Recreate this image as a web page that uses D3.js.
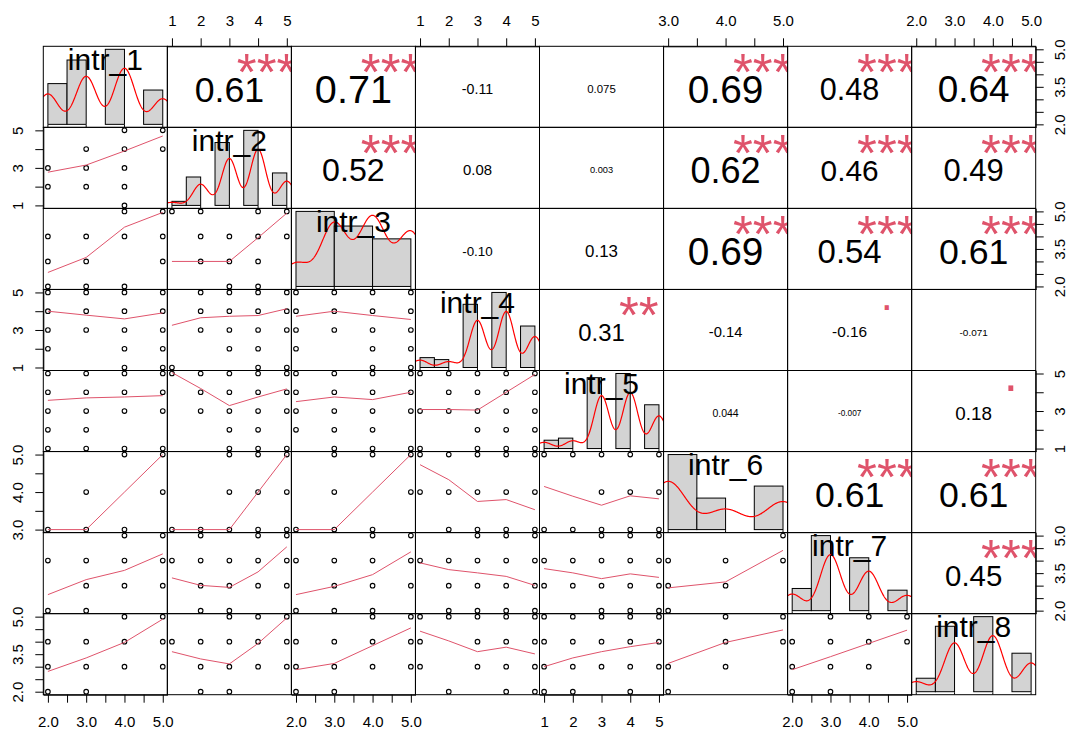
<!DOCTYPE html>
<html>
<meta charset="utf-8">
<style>
  body { margin: 0; background: #fff; }
  svg { display: block; font-family: "Liberation Sans", Arial, sans-serif; }
</style>

<body>
  <svg></svg>
</body>

<script src="https://d3js.org/d3.v7.min.js"></script>

<script>

  // grid of 8 x 8 panels
  var ml = 43.3, mt = 46.3, pw = 124.05, ph = 81.05, nv = 8;

  var vars = ["intr_1", "intr_2", "intr_3", "intr_4", "intr_5", "intr_6", "intr_7", "intr_8"];
  var varMin = [2, 1, 2, 1, 1, 3, 2, 2];
  var varMax = [5, 5, 5, 5, 5, 5, 5, 5];

  // frequencies of each answer level (varMin..varMax)
  var counts = [
    [19, 30, 35, 16],
    [2, 14, 31, 37, 16],
    [11, 30, 33, 26],
    [5, 4, 32, 38, 21],
    [4, 5, 34, 36, 21],
    [50, 21, 29],
    [13, 44, 31, 12],
    [7, 34, 39, 20]
  ];
  var binWidth = [0.5, 0.5, 1, 0.5, 0.5, 0.5, 0.5, 0.5];

  // axis ticks
  var tickStep = [0.5, 1, 0.5, 1, 1, 0.5, 0.5, 0.5];
  var xLabelVals = [[2, 3, 4, 5], [1, 2, 3, 4, 5], [2, 3, 4, 5], [1, 2, 3, 4, 5], [1, 2, 3, 4, 5], [3, 4, 5], [2, 3, 4, 5], [2, 3, 4, 5]];
  var yLabelVals = [[2, 3.5, 5], [1, 3, 5], [2, 3.5, 5], [1, 3, 5], [1, 3, 5], [3, 4, 5], [2, 3.5, 5], [2, 3.5, 5]];

  // upper triangle, row by row
  var corrLabels = ["0.61", "0.71", "-0.11", "0.075", "0.69", "0.48", "0.64",
    "0.52", "0.08", "0.003", "0.62", "0.46", "0.49",
    "-0.10", "0.13", "0.69", "0.54", "0.61",
    "0.31", "-0.14", "-0.16", "-0.071",
    "0.044", "-0.007", "0.18",
    "0.61", "0.61",
    "0.45"];
  var corrStars = ["***", "***", "", "", "***", "***", "***",
    "***", "", "", "***", "***", "***",
    "", "", "***", "***", "***",
    "**", "", ".", "",
    "", "", ".",
    "***", "***",
    "***"];

  // lower triangle, row by row: [x value, y value] pairs present
  var lowerPoints = [
    [[4,5],[5,5],[3,4],[4,4],[5,4],[2,3],[3,3],[4,3],[2,2],[3,2],[4,2],[4,1]],
    [[4,5],[5,5],[2,4],[3,4],[4,4],[5,4],[2,3],[3,3],[5,3],[2,2],[3,2],[4,2]],
    [[1,5],[2,5],[4,5],[5,5],[2,4],[3,4],[4,4],[5,4],[2,3],[3,3],[4,3],[3,2],[4,2]],
    [[2,5],[3,5],[4,5],[5,5],[2,4],[3,4],[4,4],[5,4],[2,3],[3,3],[4,3],[5,3],[2,2],[4,2],[5,2],[4,1],[5,1]],
    [[2,5],[3,5],[4,5],[5,5],[2,4],[3,4],[4,4],[5,4],[2,3],[3,3],[4,3],[5,3],[3,2],[4,2],[1,1],[4,1],[5,1]],
    [[2,5],[3,5],[4,5],[5,5],[2,4],[3,4],[4,4],[5,4],[2,3],[3,3],[4,3],[5,3],[2,2],[4,2],[5,2],[4,1],[5,1]],
    [[2,5],[3,5],[4,5],[5,5],[2,4],[3,4],[4,4],[5,4],[2,3],[3,3],[4,3],[5,3],[2,2],[3,2],[2,1],[3,1],[4,1],[5,1]],
    [[1,5],[2,5],[3,5],[4,5],[5,5],[2,4],[3,4],[4,4],[5,4],[2,3],[3,3],[4,3],[5,3],[3,2],[4,2],[3,1],[4,1],[5,1]],
    [[2,5],[3,5],[4,5],[5,5],[2,4],[3,4],[4,4],[5,4],[2,3],[3,3],[4,3],[5,3],[2,2],[3,2],[4,2],[3,1],[4,1],[5,1]],
    [[1,5],[2,5],[3,5],[4,5],[5,5],[2,4],[3,4],[4,4],[5,4],[1,3],[2,3],[3,3],[4,3],[5,3],[3,2],[4,2],[5,2],[1,1],[3,1],[4,1],[5,1]],
    [[4,5],[5,5],[3,4],[5,4],[2,3],[3,3],[4,3]],
    [[3,5],[4,5],[5,5],[3,4],[4,4],[5,4],[1,3],[2,3],[3,3],[4,3],[5,3]],
    [[3,5],[4,5],[5,5],[3,4],[5,4],[2,3],[3,3],[4,3]],
    [[1,5],[2,5],[3,5],[4,5],[5,5],[1,4],[2,4],[3,4],[4,4],[5,4],[2,3],[3,3],[4,3],[5,3]],
    [[1,5],[2,5],[3,5],[4,5],[5,5],[3,4],[4,4],[5,4],[1,3],[2,3],[3,3],[4,3],[5,3]],
    [[4,5],[5,5],[2,4],[3,4],[4,4],[5,4],[3,3],[4,3],[5,3],[2,2],[3,2]],
    [[2,5],[4,5],[5,5],[1,4],[2,4],[3,4],[4,4],[5,4],[2,3],[3,3],[4,3],[5,3],[2,2],[3,2]],
    [[4,5],[5,5],[2,4],[3,4],[4,4],[5,4],[3,3],[4,3],[5,3],[2,2],[3,2],[4,2]],
    [[3,5],[4,5],[5,5],[1,4],[2,4],[3,4],[4,4],[5,4],[2,3],[3,3],[4,3],[5,3],[2,2],[3,2],[4,2],[5,2]],
    [[3,5],[4,5],[5,5],[1,4],[2,4],[3,4],[4,4],[5,4],[1,3],[2,3],[3,3],[4,3],[5,3],[3,2],[4,2],[5,2]],
    [[5,5],[3,4],[4,4],[5,4],[3,3],[4,3],[3,2]],
    [[4,5],[5,5],[2,4],[3,4],[4,4],[5,4],[2,3],[3,3],[4,3],[5,3],[2,2],[3,2]],
    [[3,5],[4,5],[5,5],[1,4],[2,4],[3,4],[4,4],[5,4],[2,3],[3,3],[4,3],[5,3],[2,2],[3,2]],
    [[4,5],[5,5],[2,4],[3,4],[4,4],[5,4],[2,3],[3,3],[4,3],[5,3],[2,2],[3,2]],
    [[1,5],[2,5],[3,5],[4,5],[5,5],[1,4],[3,4],[4,4],[5,4],[1,3],[3,3],[4,3],[5,3],[2,2],[4,2],[5,2]],
    [[1,5],[2,5],[3,5],[4,5],[5,5],[1,4],[2,4],[3,4],[4,4],[5,4],[1,3],[2,3],[3,3],[4,3],[5,3],[1,2],[2,2],[4,2]],
    [[4,5],[5,5],[4,4],[5,4],[3,3],[4,3],[3,2]],
    [[3,5],[4,5],[5,5],[2,4],[3,4],[4,4],[5,4],[2,3],[3,3],[4,3],[2,2],[3,2]]
  ];

  // smoother value at each level of the x variable
  var lowerSmooth = [
    [2.77, 3.15, 3.9, 4.7],
    [2.56, 3.16, 4.37, 4.96],
    [3.0, 3.0, 3.0, 3.95, 4.93],
    [4.0, 3.79, 3.59, 3.91],
    [3.25, 3.65, 3.73, 3.77, 4.13],
    [3.73, 4.0, 3.77, 3.56],
    [3.57, 3.7, 3.75, 3.82],
    [5.05, 4.2, 3.29, 3.75, 4.18],
    [3.5, 3.75, 3.61, 4.0],
    [3.08, 3.08, 3.05, 4.0, 4.95],
    [3.0, 3.0, 4.0, 5.0],
    [3.0, 3.0, 3.0, 4.0, 5.0],
    [3.0, 3.0, 4.0, 5.0],
    [4.73, 4.33, 3.75, 3.8, 3.53],
    [4.15, 3.89, 3.65, 3.9, 3.82],
    [2.64, 3.24, 3.61, 4.27],
    [3.31, 3.01, 2.93, 3.55, 4.55],
    [2.64, 2.97, 3.44, 4.35],
    [3.91, 3.64, 3.51, 3.37, 3.01],
    [3.68, 3.51, 3.28, 3.47, 3.33],
    [2.91, 3.15, 4.41],
    [2.81, 3.35, 3.97, 4.9],
    [3.6, 3.31, 3.11, 3.93, 4.95],
    [2.88, 3.13, 3.84, 4.55],
    [4.42, 4.03, 3.6, 3.78, 3.51],
    [3.0, 3.35, 3.6, 3.8, 3.97],
    [3.13, 3.97, 4.47],
    [2.88, 3.4, 3.93, 4.46]
  ];

  var starColor = "#DF536B";
  var fontFam = "Liberation Sans, Arial, sans-serif";

  var svg = d3.select("svg")
    .attr("width", 1068)
    .attr("height", 731);

  svg.append("defs").append("clipPath").attr("id", "cell")
    .append("rect").attr("width", pw).attr("height", ph);

  // scales with R's 4% padding
  var xs = vars.map(function (v, k) {
    var p = 0.04 * (varMax[k] - varMin[k]);
    return d3.scaleLinear().domain([varMin[k] - p, varMax[k] + p]).range([0, pw]);
  });
  var ys = vars.map(function (v, k) {
    var p = 0.04 * (varMax[k] - varMin[k]);
    return d3.scaleLinear().domain([varMin[k] - p, varMax[k] + p]).range([ph, 0]);
  });

  function levels(k) { return d3.range(varMin[k], varMax[k] + 0.5, 1); }

  function cell(i, j) {
    return svg.append("g").attr("transform", "translate(" + (ml + j * pw) + "," + (mt + i * ph) + ")");
  }

  var meas = svg.append("text").attr("font-size", 100).attr("font-family", fontFam).attr("x", -2000).attr("y", -2000);
  function emWidth(s) { meas.text(s); return meas.node().getComputedTextLength() / 100; }

  // lower panels: points + smoother
  var k = 0;
  for (let i = 1; i < nv; i++) {
    for (let j = 0; j < i; j++) {
      var g = cell(i, j);
      var lx = levels(j);
      g.selectAll("circle")
        .data(lowerPoints[k])
        .enter().append("circle")
        .attr("cx", d => xs[j](d[0]))
        .attr("cy", d => ys[i](d[1]))
        .attr("r", 2.3)
        .attr("fill", "none")
        .attr("stroke", "#000")
        .attr("stroke-width", 1.1);
      g.append("path")
        .datum(lowerSmooth[k])
        .attr("d", d3.line().x((d, t) => xs[j](lx[t])).y(d => ys[i](d)))
        .attr("fill", "none")
        .attr("stroke", starColor)
        .attr("stroke-width", 1);
      k++;
    }
  }

  // upper panels: correlation + stars
  var c = 0;
  for (let i = 0; i < nv; i++) {
    for (let j = i + 1; j < nv; j++) {
      var gu = cell(i, j).append("g").attr("clip-path", "url(#cell)");
      var txt = corrLabels[c];
      var r = Math.abs(parseFloat(txt));
      var base = 0.8 * pw / emWidth(txt);
      var fs = base * (r + 0.3) / 1.3;
      gu.append("text")
        .attr("x", pw / 2)
        .attr("y", ph / 2 + 0.358 * fs + 2)
        .attr("text-anchor", "middle")
        .attr("font-size", fs)
        .attr("font-family", fontFam)
        .attr("fill", "#000")
        .text(txt);
      var st = corrStars[c];
      if (st) {
        var off = st === "." ? 0.052 : 0.5;
        gu.append("text")
          .attr("x", 0.8 * pw)
          .attr("y", 0.2 * ph + off * base + 2)
          .attr("text-anchor", "middle")
          .attr("font-size", base)
          .attr("font-family", fontFam)
          .attr("fill", starColor)
          .text(st);
      }
      c++;
    }
  }

  // diagonal: histogram + density + rug + name
  for (let d = 0; d < nv; d++) {
    var gd = cell(d, d);
    var gc = gd.append("g").attr("clip-path", "url(#cell)");
    var lv = levels(d), cnt = counts[d], n = d3.sum(cnt), bw = binWidth[d];
    var breaks = d3.range(varMin[d], varMax[d] + bw / 2, bw);
    var bins = breaks.slice(0, -1).map((b, t) => ({ x0: b, x1: breaks[t + 1], n: 0 }));
    lv.forEach(function (v, t) {
      var idx = Math.max(0, Math.ceil((v - varMin[d]) / bw - 1e-9) - 1);
      bins[idx].n += cnt[t];
    });
    bins.forEach(b => { b.dens = b.n / (n * bw); });
    var m = d3.max(bins, b => b.dens);
    var hy = d3.scaleLinear().domain([-0.04 * m, 1.04 * m]).range([ph, 0]);

    gc.selectAll("rect.bar")
      .data(bins)
      .enter().append("rect")
      .attr("class", "bar")
      .attr("x", b => xs[d](b.x0))
      .attr("width", b => xs[d](b.x1) - xs[d](b.x0))
      .attr("y", b => hy(b.dens))
      .attr("height", b => hy(0) - hy(b.dens))
      .attr("fill", "#D3D3D3")
      .attr("stroke", "#000")
      .attr("stroke-width", 1);

    // gaussian kernel density, bandwidth as R's bw.nrd0
    var sample = [];
    lv.forEach((v, t) => { for (var q = 0; q < cnt[t]; q++) sample.push(v); });
    var sd = d3.deviation(sample);
    var iqr = d3.quantile(sample, 0.75) - d3.quantile(sample, 0.25);
    var h = 0.9 * Math.min(sd, iqr / 1.34) * Math.pow(n, -0.2);
    var dom = xs[d].domain();
    var grid = d3.range(dom[0], dom[1] + 1e-9, (dom[1] - dom[0]) / 300);
    var dens = grid.map(x => [x, d3.sum(lv, (v, t) => cnt[t] * Math.exp(-0.5 * Math.pow((x - v) / h, 2))) / (n * h * Math.sqrt(2 * Math.PI))]);

    gc.append("path")
      .datum(dens)
      .attr("d", d3.line().x(p => xs[d](p[0])).y(p => hy(p[1])))
      .attr("fill", "none")
      .attr("stroke", "red")
      .attr("stroke-width", 1.2);

    gc.selectAll("line.rug")
      .data(lv.filter((v, t) => cnt[t] > 0))
      .enter().append("line")
      .attr("x1", v => xs[d](v)).attr("x2", v => xs[d](v))
      .attr("y1", ph).attr("y2", ph - 0.03 * ph)
      .attr("stroke", "#000");

    gd.append("text")
      .attr("x", pw / 2)
      .attr("y", 0.167 * ph + 0.34 * 30)
      .attr("text-anchor", "middle")
      .attr("font-size", 30)
      .attr("font-family", fontFam)
      .attr("fill", "#000")
      .text(vars[d]);
  }

  // panel boxes
  for (let i = 0; i < nv; i++) {
    for (let j = 0; j < nv; j++) {
      svg.append("rect")
        .attr("x", ml + j * pw).attr("y", mt + i * ph)
        .attr("width", pw).attr("height", ph)
        .attr("fill", "none").attr("stroke", "#000").attr("stroke-width", 1);
    }
  }

  // axes, alternating sides like pairs()
  for (let a = 0; a < nv; a++) {
    var step = tickStep[a];
    var tv = d3.range(varMin[a], varMax[a] + step / 2, step);
    var fmt = step < 1 ? d3.format(".1f") : d3.format("d");
    let xl = xLabelVals[a], yl = yLabelVals[a];
    var xf = v => xl.some(q => Math.abs(q - v) < 1e-9) ? fmt(v) : "";
    var yf = v => yl.some(q => Math.abs(q - v) < 1e-9) ? fmt(v) : "";

    var isTop = a % 2 === 1;
    var xa = (isTop ? d3.axisTop(xs[a]) : d3.axisBottom(xs[a]))
      .tickValues(tv).tickFormat(xf).tickSizeInner(8).tickSizeOuter(0)
      .tickPadding(isTop ? 12 : 13.7);
    var gxa = svg.append("g")
      .attr("transform", "translate(" + (ml + a * pw) + "," + (isTop ? mt : mt + nv * ph) + ")")
      .call(xa);

    var isLeft = a % 2 === 1;
    var ya = (isLeft ? d3.axisLeft(ys[a]) : d3.axisRight(ys[a]))
      .tickValues(tv).tickFormat(yf).tickSizeInner(8).tickSizeOuter(0);
    var gya = svg.append("g")
      .attr("transform", "translate(" + (isLeft ? ml : ml + nv * pw) + "," + (mt + a * ph) + ")")
      .call(ya);
    gya.selectAll("text")
      .attr("x", null).attr("dy", null)
      .attr("text-anchor", "middle")
      .attr("transform", isLeft ? "translate(-20,0) rotate(-90)" : "translate(29.5,0) rotate(-90)");

    [gxa, gya].forEach(function (ax) {
      ax.attr("font-size", 15).attr("font-family", fontFam);
      ax.select(".domain").attr("stroke", "#000");
      ax.selectAll(".tick line").attr("stroke", "#000");
      ax.selectAll(".tick text").attr("fill", "#000");
    });
  }

  meas.remove();

</script>

</html>
